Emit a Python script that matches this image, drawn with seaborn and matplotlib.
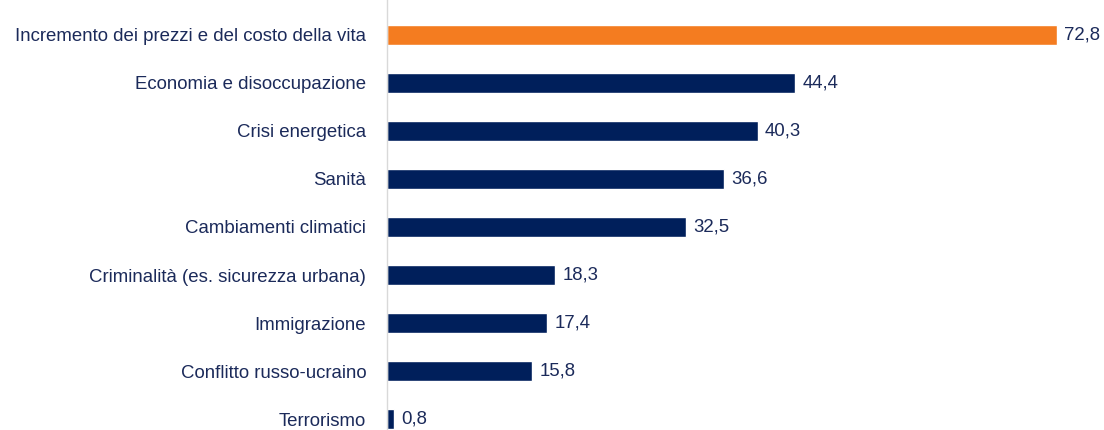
import matplotlib
matplotlib.use("Agg")
import matplotlib.pyplot as plt
import seaborn as sns
import pandas as pd

categories = [
    "Incremento dei prezzi e del costo della vita",
    "Economia e disoccupazione",
    "Crisi energetica",
    "Sanità",
    "Cambiamenti climatici",
    "Criminalità (es. sicurezza urbana)",
    "Immigrazione",
    "Conflitto russo-ucraino",
    "Terrorismo",
]
values = [72.8, 44.4, 40.3, 36.6, 32.5, 18.3, 17.4, 15.8, 0.8]
groups = ["top"] + ["other"] * (len(categories) - 1)

df = pd.DataFrame({"cat": categories, "val": values, "grp": groups})

sns.set_theme(style="white")
plt.rcParams["font.family"] = ["Liberation Sans", "DejaVu Sans"]

ORANGE = "#F47C20"
NAVY = "#001F5B"
TEXT = "#1B2A5A"
FS = 13.4

fig = plt.figure(figsize=(11.04, 4.30), dpi=100)
ax = fig.add_axes([387 / 1104, 0.0, 1 - 387 / 1104, 1.0])

sns.barplot(
    data=df, x="val", y="cat", hue="grp", order=categories,
    palette={"top": ORANGE, "other": NAVY}, dodge=False,
    width=0.42, legend=False, ax=ax, saturation=1,
)

ax.set_xlim(0, (1104 - 387) / 9.2)
ax.set_ylim(8 + 11 / 48, -35 / 48)

for i, v in enumerate(values):
    ax.text(v + 0.8, i, f"{v:.1f}".replace(".", ","), va="center", ha="left",
            fontsize=FS, color=TEXT)

ax.set_xlabel("")
ax.set_ylabel("")
ax.set_xticks([])
ax.tick_params(axis="y", length=0, pad=15, labelsize=FS, labelcolor=TEXT)
for s in ["top", "right", "bottom"]:
    ax.spines[s].set_visible(False)
ax.spines["left"].set_color("#D9D9D9")
ax.spines["left"].set_linewidth(1.0)

fig.savefig("out.png", dpi=100)
